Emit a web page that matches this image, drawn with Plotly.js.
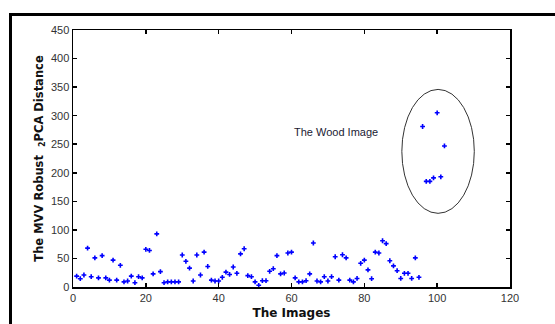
<!DOCTYPE html>
<html>
<head>
<meta charset="utf-8">
<script src="https://cdn.plot.ly/plotly-3.0.1.min.js"></script>
<style>
html,body{margin:0;padding:0;background:#fff;overflow:hidden;}
#frame{position:absolute;left:9px;top:13px;width:700px;height:500px;border:3px solid #000;box-sizing:border-box;pointer-events:none;z-index:5;}
#chart{position:absolute;left:0;top:0;width:555px;height:324px;}
</style>
</head>
<body>
<div id="chart"></div>
<div id="frame"></div>
<script>
const imageIndex = [1,2,3,4,5,6,7,8,9,10,11,12,13,14,15,16,17,18,19,20,21,22,23,24,25,26,27,28,29,30,31,32,33,34,35,36,37,38,39,40,41,42,43,44,45,46,47,48,49,50,51,52,53,54,55,56,57,58,59,60,61,62,63,64,65,66,67,68,69,70,71,72,73,74,75,76,77,78,79,80,81,82,83,84,85,86,87,88,89,90,91,92,93,94,95,96,97,98,99,100,101,102];
const distance = [19,14.5,21,68,18,51,16,55,16,12,47,12,38,9,10.5,19,7.5,18,16,66,64,23,93,27,7.5,9,9,9,9,56,45,33,10.5,56,21,61,36,12,10.5,10.5,17,26,22,35,24,58,67,20,18,9,3,11,11,27.5,32,55,23,24.5,59.5,61,16,9,9,11,23,77,10.5,9,18,10.5,18,53,12,56.5,51,12,9,15,41.5,47,30,14.5,61,59.5,81,76,46,37,28.5,15,24,24,15,51,17,281,185,185,191,305,193,247];
const xTicks = [0,20,40,60,80,100,120];
const yTicks = [0,50,100,150,200,250,300,350,400,450];
const annotationText = "The Wood Image";
const xTitle = "The Images";
const yTitle = "The MVV Robust \u00a0<sub>2</sub>PCA Distance";

const axisCommon = {
  showgrid:false, zeroline:false, showline:true, linecolor:'#000', linewidth:1.5,
  mirror:'ticks', ticks:'inside', ticklen:4, tickwidth:1.5, tickcolor:'#000',
  tickfont:{family:'Liberation Sans, Arial, sans-serif', size:11, color:'#333'}
};

const data = [{
  x: imageIndex, y: distance, type:'scatter', mode:'markers',
  marker:{symbol:'cross', size:4, color:'#0000ff', line:{width:0}},
  hoverinfo:'none'
}];

const layout = {
  width:555, height:324,
  margin:{l:73, r:45, t:30, b:37},
  paper_bgcolor:'#fff', plot_bgcolor:'#fff',
  showlegend:false,
  xaxis:Object.assign({}, axisCommon, {range:[0,120], tickvals:xTicks,
    title:{text:xTitle, font:{family:'DejaVu Sans, Verdana, sans-serif', size:12, color:'#111', weight:'bold'}, standoff:6}}),
  yaxis:Object.assign({}, axisCommon, {range:[0,450], tickvals:yTicks,
    title:{text:yTitle, font:{family:'DejaVu Sans, Verdana, sans-serif', size:11.5, color:'#111', weight:'bold'}, standoff:5}}),
  shapes:[{type:'circle', xref:'x', yref:'y', x0:90.3, x1:110.2, y0:129, y1:346,
    line:{color:'#333', width:1}}],
  annotations:[{x:72.1, y:271.5, xref:'x', yref:'y', text:annotationText, showarrow:false,
    font:{family:'Liberation Sans, Arial, sans-serif', size:11, color:'#1a1a33'}}]
};

Plotly.newPlot('chart', data, layout, {displayModeBar:false, staticPlot:true});
</script>
</body>
</html>
